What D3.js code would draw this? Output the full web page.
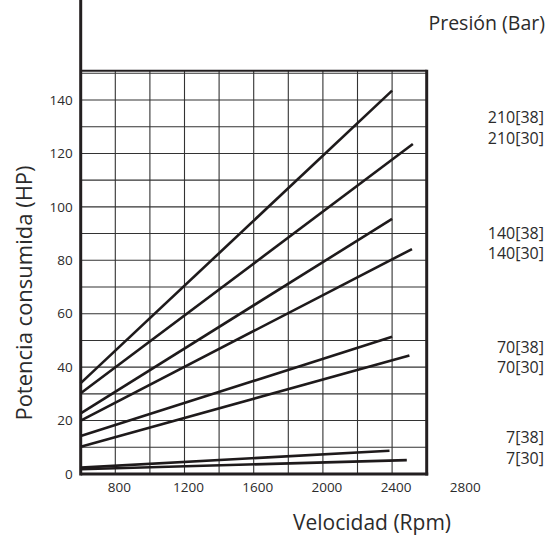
<!DOCTYPE html>
<html>
<head>
<meta charset="utf-8">
<script src="https://cdn.jsdelivr.net/npm/d3@7"></script>
<style>
  body { margin: 0; background: #fff; }
  text { font-family: "Open Sans", sans-serif; fill: #2b2b2b; }
</style>
</head>
<body>
<div id="chart"></div>
<script>
// pressure series: name, rpm range and HP at both ends
var seriesNames = ["210[38]", "210[30]", "140[38]", "140[30]", "70[38]", "70[30]", "7[38]", "7[30]"];
var rpmStart = [600, 600, 600, 600, 600, 600, 600, 600];
var rpmEnd = [2400, 2520, 2400, 2515, 2400, 2500, 2385, 2485];
var hpStart = [34, 30.2, 22.7, 20, 14.2, 10.2, 2.4, 1.8];
var hpEnd = [143.5, 123.5, 95.5, 84.2, 51.4, 44.4, 8.7, 5.2];

var xTicks = [800, 1200, 1600, 2000, 2400, 2800];
var yTicks = [0, 20, 40, 60, 80, 100, 120, 140];

(function() {
    var width = 559,
        height = 540;

    var left = 80.7, right = 426.7, top = 70.7, bottom = 474;

    var svg = d3.select("#chart")
        .append("svg")
        .attr("width", width)
        .attr("height", height);

    var x = d3.scaleLinear().domain([600, 2600]).range([left, right]);
    var y = d3.scaleLinear().domain([0, 140]).range([bottom, 100]);

    // grid
    svg.selectAll(".vgrid")
        .data(d3.range(800, 2600, 200))
        .enter().append("line")
        .attr("x1", d => x(d)).attr("x2", d => x(d))
        .attr("y1", top).attr("y2", bottom)
        .attr("stroke", "#333")
        .attr("stroke-width", 1.1);

    svg.selectAll(".hgrid")
        .data(d3.range(10, 151, 10))
        .enter().append("line")
        .attr("x1", left).attr("x2", right)
        .attr("y1", d => y(d)).attr("y2", d => y(d))
        .attr("stroke", "#333")
        .attr("stroke-width", 1.1);

    // frame
    svg.append("line")
        .attr("x1", left).attr("x2", right).attr("y1", top).attr("y2", top)
        .attr("stroke", "#231f20").attr("stroke-width", 2);
    svg.append("line")
        .attr("x1", right).attr("x2", right).attr("y1", top - 1).attr("y2", bottom + 1.5)
        .attr("stroke", "#231f20").attr("stroke-width", 3);
    svg.append("line")
        .attr("x1", left).attr("x2", right + 1.5).attr("y1", bottom).attr("y2", bottom)
        .attr("stroke", "#231f20").attr("stroke-width", 3);
    svg.append("line")
        .attr("x1", left).attr("x2", left).attr("y1", 0).attr("y2", bottom + 1.5)
        .attr("stroke", "#231f20").attr("stroke-width", 3);

    // series lines
    svg.selectAll(".serie")
        .data(seriesNames)
        .enter().append("line")
        .attr("class", "serie")
        .attr("x1", (d, i) => x(rpmStart[i]))
        .attr("y1", (d, i) => y(hpStart[i]))
        .attr("x2", (d, i) => x(rpmEnd[i]))
        .attr("y2", (d, i) => y(hpEnd[i]))
        .attr("stroke", "#1e1a1b")
        .attr("stroke-width", 2.6);

    // tick labels
    svg.selectAll(".ytick")
        .data(yTicks)
        .enter().append("text")
        .attr("x", left - 8)
        .attr("y", d => y(d))
        .attr("dy", "0.35em")
        .attr("text-anchor", "end")
        .style("font-size", "13.5px")
        .text(d => d);

    svg.selectAll(".xtick")
        .data(xTicks)
        .enter().append("text")
        .attr("x", d => x(d) + 4)
        .attr("y", 492)
        .attr("text-anchor", "middle")
        .style("font-size", "13.5px")
        .text(d => d);

    // series labels, right column
    var labelY = [117, 138, 233, 253, 347, 367, 437, 458];
    svg.selectAll(".slabel")
        .data(seriesNames)
        .enter().append("text")
        .attr("x", 544)
        .attr("y", (d, i) => labelY[i])
        .attr("dy", "0.35em")
        .attr("text-anchor", "end")
        .style("font-size", "16px")
        .text(d => d);

    // titles
    svg.append("text")
        .attr("x", 545).attr("y", 30)
        .attr("text-anchor", "end")
        .style("font-size", "19.5px")
        .text("Presión (Bar)");

    svg.append("text")
        .attr("x", 372).attr("y", 530)
        .attr("text-anchor", "middle")
        .style("font-size", "21px")
        .text("Velocidad (Rpm)");

    svg.append("text")
        .attr("transform", "translate(32,293) rotate(-90)")
        .attr("text-anchor", "middle")
        .style("font-size", "22px")
        .text("Potencia consumida (HP)");
})();
</script>
</body>
</html>
